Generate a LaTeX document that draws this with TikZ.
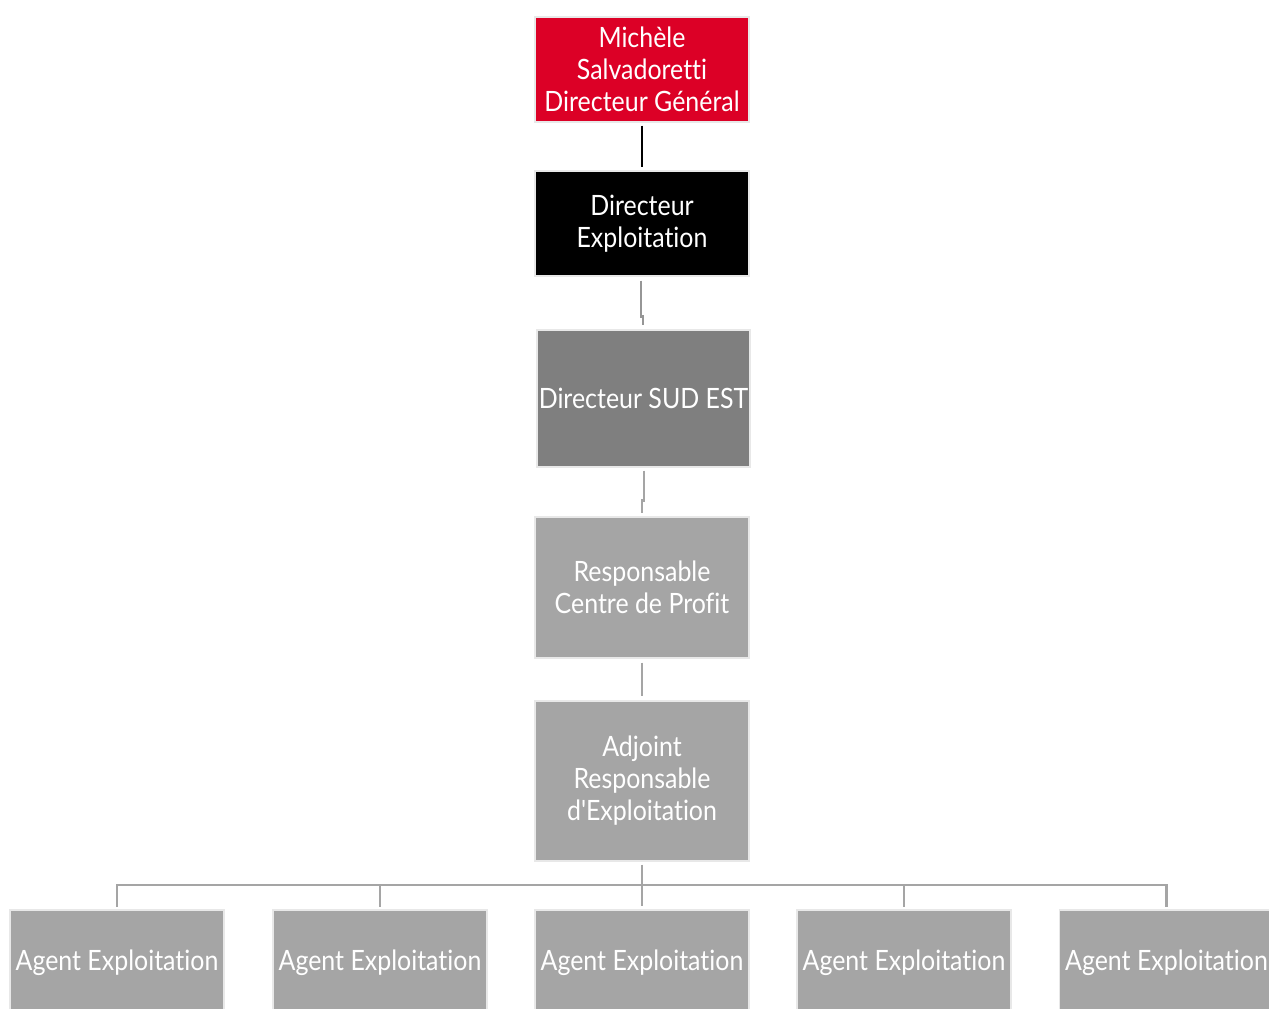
\documentclass[tikz,border=0pt]{standalone}
\usepackage{fontspec}
\setmainfont{Lato}[FakeStretch=0.89, Ligatures={NoCommon,TeXOff}]
\usetikzlibrary{calc}
\definecolor{cred}{RGB}{220,0,38}
\definecolor{cdark}{RGB}{127,127,127}
\definecolor{clight}{RGB}{165,165,165}
\definecolor{cline}{RGB}{150,150,150}
\tikzset{
  box/.style={draw=white!75!clight, line width=0.8pt, text=white, align=center,
    minimum width=160.5pt, inner sep=0pt,
    font=\fontsize{21}{24}\selectfont},
  conn/.style={line width=1.6pt},
  gconn/.style={line width=1.6pt, draw=cline},
  bus/.style={line width=2.2pt, draw=clight},
}
\begin{document}
\begin{tikzpicture}[x=0.75pt,y=-0.75pt]
\useasboundingbox (0,0) rectangle (1269,1008);
\clip (0,0) rectangle (1269,1008);
\node[box, fill=cred, minimum height=78.75pt] (dg) at (642,69.5) {Michèle\\Salvadoretti\\Directeur Général};
\node[box, fill=black, minimum height=78.75pt] (de) at (642,223.5) {Directeur\\Exploitation};
\node[box, fill=cdark, minimum width=159.75pt, minimum height=102.75pt] (se) at (643.5,398.5) {Directeur SUD EST};
\node[box, fill=clight, minimum height=105.75pt] (rc) at (642,587.5) {Responsable\\Centre de Profit};
\node[box, fill=clight, minimum height=120pt] (ad) at (642,781) {Adjoint\\Responsable\\d'Exploitation};
\foreach \i/\x in {1/117,2/380,3/642,4/904,5/1166.5}{
  \node[box, fill=clight, minimum height=79.5pt] (a\i) at (\x,963) {Agent Exploitation};
}
\coordinate (bus) at (642,885);
\draw[conn] ($(dg.south)+(0,3)$) -- ($(de.north)+(0,-3)$);
\draw[gconn] ($(de.south)+(-1,4)$) -- ($(de.south)+(-1,40)$) -- ($(de.south)+(1,40)$) -- ($(se.north)+(-0.5,-4)$);
\draw[gconn, draw=clight] ($(se.south)+(0.5,3)$) -- ($(se.south)+(0.5,33)$) -- ($(se.south)+(-1.5,33)$) -- ($(rc.north)+(0,-3)$);
\draw[gconn, draw=clight] ($(rc.south)+(0,4)$) -- ($(ad.north)+(0,-4)$);
\draw[bus] ($(ad.south)+(0,3)$) -- ($(a3.north)+(0,-3)$);
\draw[bus] ($(a1.north|-bus)+(0,22)$) -- (a1.north|-bus) -- (a5.north|-bus) -- ($(a5.north|-bus)+(0,22)$);
\foreach \i in {2,4}{
  \draw[bus] (a\i.north|-bus) -- ($(a\i.north|-bus)+(0,22)$);
}
\end{tikzpicture}
\end{document}
